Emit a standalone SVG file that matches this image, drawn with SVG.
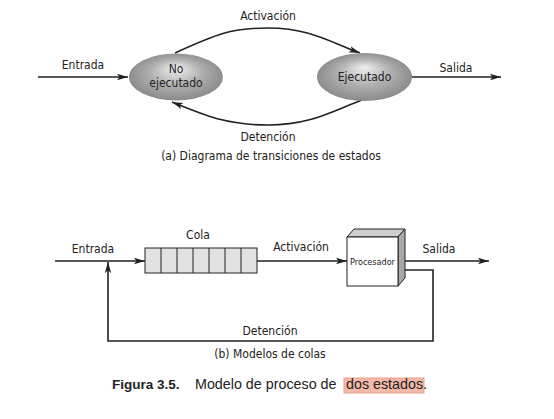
<svg xmlns="http://www.w3.org/2000/svg" width="554" height="419" viewBox="0 0 554 419">
<style>
.t{font-family:"DejaVu Sans","Liberation Sans",sans-serif;font-stretch:condensed;font-size:12px;fill:#222}
.ln{fill:none;stroke:#222;stroke-width:1.6}
.cap{font-family:"Liberation Sans",Arial,sans-serif;font-size:13.5px;fill:#222}
</style>
<defs>
<radialGradient id="g" cx="0.5" cy="0.5" r="0.55" fx="0.5" fy="0.3">
<stop offset="0" stop-color="#f0f0f0"/>
<stop offset="0.5" stop-color="#b0b0b0"/>
<stop offset="1" stop-color="#858585"/>
</radialGradient>
<marker id="a" markerWidth="12" markerHeight="8" refX="11" refY="4" orient="auto" markerUnits="userSpaceOnUse">
<path d="M0,0.8 L11,4 L0,7.2 L2.5,4 Z" fill="#222"/>
</marker>
</defs>
<g id="connectors">
<line class="ln" x1="38" y1="77" x2="128" y2="77" marker-end="url(#a)"/>
<line class="ln" x1="412" y1="77" x2="501" y2="77" marker-end="url(#a)"/>
<path class="ln" d="M175,53 C215,35 230,28 268,28 C310,28 330,42 360,53" marker-end="url(#a)"/>
<path class="ln" d="M362,100 C330,112 310,125 268,125 C225,125 205,115 172,102" marker-end="url(#a)"/>
<line class="ln" x1="55" y1="261" x2="145" y2="261" marker-end="url(#a)"/>
<line class="ln" x1="257" y1="261" x2="347" y2="261" marker-end="url(#a)"/>
<line class="ln" x1="398" y1="261" x2="489" y2="261" marker-end="url(#a)"/>
<polyline class="ln" points="398,270 433,270 433,341 108,341 108,262" marker-end="url(#a)"/>
</g>
<g id="no-ejecutado">
<ellipse cx="176" cy="77" rx="47" ry="23.5" fill="url(#g)"/>
<text class="t" x="176" y="73" text-anchor="middle">No</text>
<text class="t" x="176" y="87" text-anchor="middle">ejecutado</text>
</g>
<g id="ejecutado">
<ellipse cx="364.5" cy="77" rx="47.5" ry="24" fill="url(#g)"/>
<text class="t" x="364.5" y="81" text-anchor="middle">Ejecutado</text>
</g>
<g id="cola">
<rect x="145" y="248" width="112" height="25" fill="#e2e2e2" stroke="#222" stroke-width="1"/>
<path d="M161,248V273M177,248V273M193,248V273M209,248V273M225,248V273M241,248V273" stroke="#222" stroke-width="1"/>
<text class="t" x="198" y="239" text-anchor="middle">Cola</text>
</g>
<g id="procesador">
<polygon points="347,237 354,229 405,229 398,237" fill="#cfcfcf" stroke="#222" stroke-width="1"/>
<polygon points="398,237 405,229 405,278 398,286" fill="#a8a8a8" stroke="#222" stroke-width="1"/>
<rect x="347" y="237" width="51" height="49" fill="#fff" stroke="#222" stroke-width="1"/>
<text class="t" x="372.5" y="264.5" text-anchor="middle" style="font-size:9px">Procesador</text>
</g>
<g id="labels">
<text class="t" x="83" y="69" text-anchor="middle">Entrada</text>
<text class="t" x="456" y="72" text-anchor="middle">Salida</text>
<text class="t" x="268" y="20" text-anchor="middle">Activación</text>
<text class="t" x="268" y="141" text-anchor="middle">Detención</text>
<text class="t" x="271" y="160" text-anchor="middle">(a) Diagrama de transiciones de estados</text>
<text class="t" x="93" y="253" text-anchor="middle">Entrada</text>
<text class="t" x="301" y="251" text-anchor="middle">Activación</text>
<text class="t" x="439" y="253" text-anchor="middle">Salida</text>
<text class="t" x="270" y="335" text-anchor="middle">Detención</text>
<text class="t" x="270" y="358" text-anchor="middle">(b) Modelos de colas</text>
</g>
<g id="caption">
<rect x="344" y="378" width="80" height="15" fill="#f4b9a8" stroke="#e9a08c" stroke-width="1"/>
<text class="cap" x="112" y="389" style="font-weight:bold">Figura 3.5.</text>
<text class="cap" x="195" y="389" style="font-size:14.3px">Modelo de proceso de <tspan x="346">dos estados.</tspan></text>
</g>
</svg>
